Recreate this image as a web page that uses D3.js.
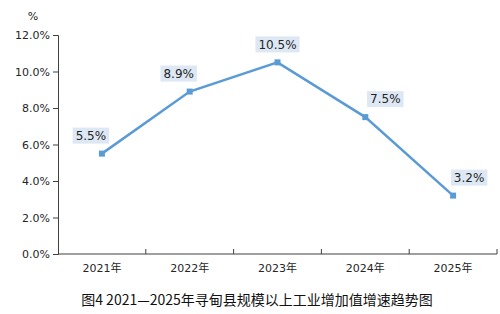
<!DOCTYPE html>
<html>
<meta charset="utf-8">
<style>
    body { margin: 0; background: #fff; }
    text { font-family: "DejaVu Sans", "Noto Sans CJK SC", sans-serif; fill: #262626; }
    .axis path, .axis line { stroke: #404040; }
    .line { fill: none; stroke: #5b9bd5; stroke-width: 2.5px; }
    .pt { fill: #5b9bd5; }
    .lbl-bg { fill: #dde8f4; }
    .title { font-family: "Noto Sans CJK SC", sans-serif; font-size: 14px; fill: #111; }
</style>
<body>
<script src="https://d3js.org/d3.v7.min.js"></script>
<script>
    var years = ["2021年", "2022年", "2023年", "2024年", "2025年"];
    var growth = [5.5, 8.9, 10.5, 7.5, 3.2];
    var yTicks = [0, 2, 4, 6, 8, 10, 12];

    // label offsets from each point (layout only)
    var labelDx = [-11, -11, 0, 20, 16];

    var width = 500, height = 314;
    var mLeft = 58, mRight = 497, mTop = 35, mBottom = 254;

    var svg = d3.select("body").append("svg")
        .attr("width", width)
        .attr("height", height);

    var x = d3.scaleBand().domain(years).range([mLeft, mRight]);
    var y = d3.scaleLinear().domain([0, 12]).range([mBottom, mTop]);

    svg.append("g")
        .attr("class", "axis")
        .attr("transform", "translate(" + mLeft + ",0)")
        .call(d3.axisLeft(y).tickValues(yTicks).tickSize(5).tickPadding(3)
            .tickFormat(function (d) { return d.toFixed(1) + "%"; }))
        .call(function (g) { g.selectAll("text").attr("font-size", 11); });

    // x axis with inward ticks at band boundaries
    var xg = svg.append("g").attr("class", "axis");
    xg.append("line")
        .attr("x1", mLeft).attr("x2", mRight)
        .attr("y1", mBottom).attr("y2", mBottom);
    var bounds = years.map(function (d) { return x(d) + x.bandwidth(); });
    xg.selectAll(".tk").data(bounds).enter().append("line")
        .attr("x1", function (d) { return d; }).attr("x2", function (d) { return d; })
        .attr("y1", mBottom).attr("y2", mBottom - 5);
    xg.selectAll(".xl").data(years).enter().append("text")
        .attr("x", function (d) { return x(d) + x.bandwidth() / 2; })
        .attr("y", mBottom + 18)
        .attr("text-anchor", "middle")
        .attr("font-size", 11)
        .text(function (d) { return d; });

    svg.append("text")
        .attr("x", 33).attr("y", 20)
        .attr("text-anchor", "middle")
        .attr("font-size", 11)
        .text("%");

    var cx = function (d, i) { return x(years[i]) + x.bandwidth() / 2; };

    svg.append("path")
        .datum(growth)
        .attr("class", "line")
        .attr("d", d3.line().x(cx).y(function (d) { return y(d); }));

    svg.selectAll(".pt").data(growth).enter().append("rect")
        .attr("class", "pt")
        .attr("x", function (d, i) { return cx(d, i) - 3; })
        .attr("y", function (d) { return y(d) - 3; })
        .attr("width", 6).attr("height", 6);

    var lbl = svg.selectAll(".lbl").data(growth).enter().append("g")
        .attr("transform", function (d, i) {
            return "translate(" + (cx(d, i) + labelDx[i]) + "," + (y(d) - 18) + ")";
        });
    lbl.append("rect").attr("class", "lbl-bg");
    lbl.append("text")
        .attr("text-anchor", "middle")
        .attr("dy", "0.35em")
        .attr("font-size", 12)
        .text(function (d) { return d.toFixed(1) + "%"; });
    lbl.each(function () {
        var g = d3.select(this);
        var b = g.select("text").node().getBBox();
        g.select("rect")
            .attr("x", b.x - 3).attr("y", -8)
            .attr("width", b.width + 6).attr("height", 16);
    });

    svg.append("text")
        .attr("class", "title")
        .attr("x", 257).attr("y", 305)
        .attr("text-anchor", "middle")
        .text("图4 2021—2025年寻甸县规模以上工业增加值增速趋势图");
</script>
</body>
</html>
